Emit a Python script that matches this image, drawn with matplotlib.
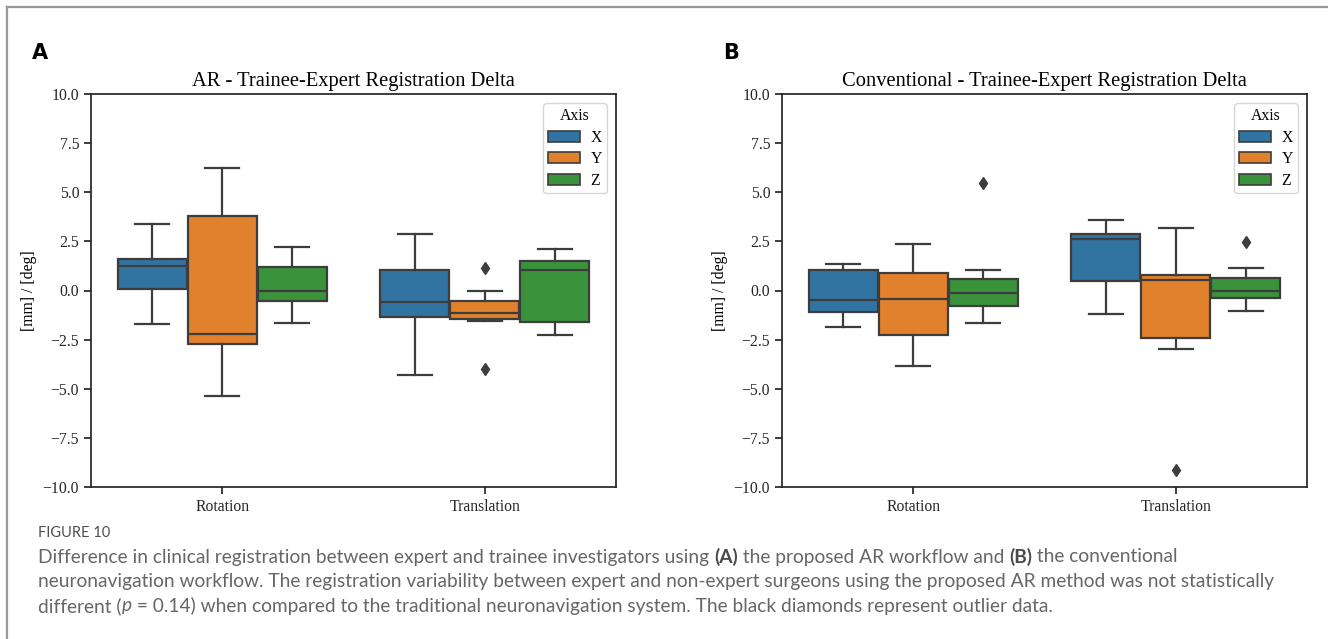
import matplotlib.pyplot as plt
from matplotlib.lines import Line2D
from matplotlib.patches import Patch

# categories and hue levels
groups = ["Rotation", "Translation"]
hue_levels = ["X", "Y", "Z"]

# panel A (AR) box stats, order: Rotation X,Y,Z then Translation X,Y,Z
ar_whislo = [-1.73, -5.36, -1.65, -4.28, -1.53, -2.26]
ar_q1 = [0.08, -2.73, -0.51, -1.34, -1.43, -1.61]
ar_med = [1.27, -2.19, 0.0, -0.58, -1.12, 1.04]
ar_q3 = [1.61, 3.79, 1.21, 1.02, -0.53, 1.51]
ar_whishi = [3.36, 6.21, 2.21, 2.89, -0.03, 2.09]
ar_fliers = [[], [], [], [], [1.12, -4.01], []]

# panel B (conventional)
cv_whislo = [-1.85, -3.85, -1.65, -1.22, -2.97, -1.04]
cv_q1 = [-1.07, -2.29, -0.81, 0.48, -2.43, -0.39]
cv_med = [-0.49, -0.41, -0.12, 2.61, 0.53, 0.0]
cv_q3 = [1.04, 0.90, 0.61, 2.87, 0.81, 0.66]
cv_whishi = [1.36, 2.39, 1.02, 3.58, 3.16, 1.12]
cv_fliers = [[], [], [5.45], [], [-9.12], [2.48]]

colors = ['#3274a1', '#e1812c', '#3a923a']
line_col = '#3d3d3d'
serif = 'Liberation Serif'

W, H = 1328, 639
fig = plt.figure(figsize=(W / 100, H / 100), dpi=100)


def draw_panel(rect, title, whislo, q1, med, q3, whishi, fliers, letter, letter_x):
    ax = fig.add_axes(rect)
    width = 0.8 / len(hue_levels)
    for h, (lev, col) in enumerate(zip(hue_levels, colors)):
        stats = []
        pos = []
        for g in range(len(groups)):
            i = g * len(hue_levels) + h
            stats.append(dict(whislo=whislo[i], q1=q1[i], med=med[i], q3=q3[i],
                              whishi=whishi[i], fliers=fliers[i]))
            pos.append(g - 0.4 + width * (h + 0.5))
        ax.bxp(stats, positions=pos, widths=width * 0.98, patch_artist=True,
               manage_ticks=False,
               boxprops=dict(facecolor=col, edgecolor=line_col, linewidth=1.6),
               medianprops=dict(color=line_col, linewidth=1.6),
               whiskerprops=dict(color=line_col, linewidth=1.6),
               capprops=dict(color=line_col, linewidth=1.6),
               flierprops=dict(marker='d', markerfacecolor=line_col,
                               markeredgecolor=line_col, markersize=6))
    ax.set_xlim(-0.5, len(groups) - 0.5)
    ax.set_ylim(-10, 10)
    ax.set_yticks([-10, -7.5, -5, -2.5, 0, 2.5, 5, 7.5, 10])
    ax.set_yticklabels(['\u221210.0', '\u22127.5', '\u22125.0', '\u22122.5', '0.0',
                        '2.5', '5.0', '7.5', '10.0'], family=serif, fontsize=11.3)
    ax.set_xticks(range(len(groups)))
    ax.set_xticklabels(groups, family=serif, fontsize=11.3)
    ax.set_ylabel('[mm] / [deg]', family=serif, fontsize=11.3, labelpad=4)
    ax.set_title(title, family=serif, fontsize=14.8, pad=6)
    for sp in ax.spines.values():
        sp.set_color('#262626')
        sp.set_linewidth(1.25)
    ax.tick_params(colors='#262626', width=1.25, length=5)
    handles = [Patch(facecolor=c, edgecolor=line_col, linewidth=1.2, label=l)
               for c, l in zip(colors, hue_levels)]
    leg = ax.legend(handles=handles, title='Axis', loc='upper right',
                    prop=dict(family=serif, size=11.3), handlelength=2.0,
                    handleheight=0.7, borderpad=0.3, labelspacing=0.35,
                    handletextpad=0.7, borderaxespad=0.6)
    leg.get_title().set_fontfamily(serif)
    leg.get_title().set_fontsize(11.3)
    fig.text(letter_x / W, 1 - 53 / H, letter, fontsize=15, fontweight='bold',
             family='DejaVu Sans', va='center', ha='left')
    return ax


bottom = 1 - 487 / H
height = (487 - 94) / H
draw_panel([91 / W, bottom, 525 / W, height],
           'AR - Trainee-Expert Registration Delta',
           ar_whislo, ar_q1, ar_med, ar_q3, ar_whishi, ar_fliers, 'A', 32)
draw_panel([782 / W, bottom, 525 / W, height],
           'Conventional - Trainee-Expert Registration Delta',
           cv_whislo, cv_q1, cv_med, cv_q3, cv_whishi, cv_fliers, 'B', 723)

# frame lines (only top and left visible in the crop)
fig.add_artist(Line2D([7 / W, 7 / W], [0, 1 - 7 / H], color='#9a9a9a', lw=1.6))
fig.add_artist(Line2D([7 / W, 1], [1 - 7 / H, 1 - 7 / H], color='#9a9a9a', lw=1.6))

# caption
cap_font = 'Lato'
cap_col = '#666666'
cap_x = 38
fig.text(cap_x / W, 1 - 533 / H, 'FIGURE 10', family=cap_font, fontsize=10.5,
         color='#4d4d4d', va='center', ha='left')

cap_lines = [
    [("Difference in clinical registration between expert and trainee investigators using ", 'normal'),
     ("(A)", 'bold'), (" the proposed AR workflow and ", 'normal'), ("(B)", 'bold'),
     (" the conventional", 'normal')],
    [("neuronavigation workflow. The registration variability between expert and non-expert "
      "surgeons using the proposed AR method was not statistically", 'normal')],
    [("different (", 'normal'), ("p", 'italic'), (" = 0.14) when compared to the traditional "
      "neuronavigation system. The black diamonds represent outlier data.", 'normal')],
]
cap_y = [557, 582, 606]
cap_size = 13.8
fig.canvas.draw()
renderer = fig.canvas.get_renderer()
for segs, y in zip(cap_lines, cap_y):
    x0 = cap_x
    for txt, style in segs:
        kw = dict(family=cap_font, fontsize=cap_size, color=cap_col,
                  va='center', ha='left')
        if style == 'bold':
            kw['fontweight'] = 'bold'
            kw['color'] = '#4a4a4a'
        elif style == 'italic':
            kw['fontstyle'] = 'italic'
        t = fig.text(x0 / W, 1 - y / H, txt, **kw)
        x0 = t.get_window_extent(renderer).x1

fig.savefig('out.png', dpi=100)
